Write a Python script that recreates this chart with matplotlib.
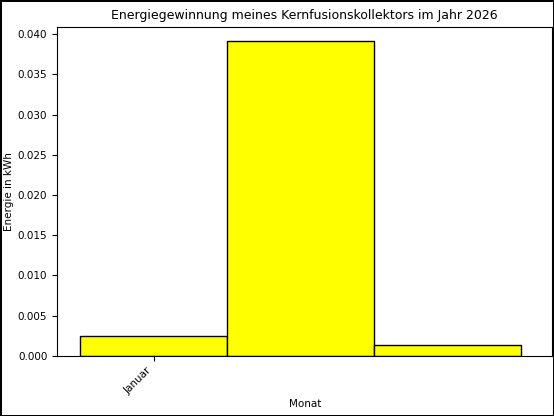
import matplotlib
matplotlib.use("Agg")
import matplotlib.pyplot as plt

monate = ["Januar", "Februar", "März"]
energie = [0.0025, 0.0392, 0.0013]

fig, ax = plt.subplots(figsize=(5.54, 4.16), dpi=100)
fig.patch.set_edgecolor("black")
fig.patch.set_linewidth(2)

ax.bar(range(len(monate)), energie, width=1.0, color="yellow", edgecolor="black")
ax.set_xlim(-0.656, 2.71)
ax.set_ylim(0, 0.0409)
ax.set_xticks([0])
ax.set_xticklabels(monate[:1], rotation=45, ha="right", fontsize=7.5)
ax.tick_params(axis="y", labelsize=7.5)
ax.set_xlabel("Monat", fontsize=7.5, labelpad=2)
ax.set_ylabel("Energie in kWh", fontsize=7.5, labelpad=3)
ax.set_title("Energiegewinnung meines Kernfusionskollektors im Jahr 2026", fontsize=9)

fig.subplots_adjust(left=0.103, right=0.997, top=0.935, bottom=0.145)
fig.savefig("out.png", dpi=100, edgecolor=fig.get_edgecolor())
